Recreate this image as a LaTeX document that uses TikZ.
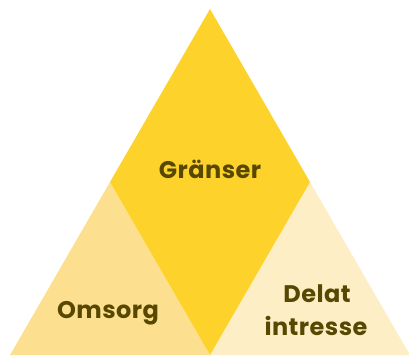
\documentclass[tikz,border=0pt]{standalone}
\usepackage{fontspec}
\setmainfont{Poppins}[LetterSpace=2]
\definecolor{diam}{HTML}{FDD22B}
\definecolor{leftc}{HTML}{FDE08F}
\definecolor{rightc}{HTML}{FEEEC5}
\definecolor{txt}{HTML}{574700}
\begin{document}
\begin{tikzpicture}[x=1pt,y=-1pt,
  lbl/.style={text=txt,font=\bfseries\fontsize{24}{28}\selectfont,anchor=base,inner sep=0pt,align=center}]
\useasboundingbox (0,0) rectangle (409,356);
\coordinate (T) at (210,9);
\coordinate (L) at (110,182);
\coordinate (R) at (310,182);
\coordinate (B) at (210,355);
\coordinate (BL) at (10,355);
\coordinate (BR) at (410,355);
\fill[leftc] (L) -- (BL) -- (B) -- cycle;
\fill[rightc] (R) -- (B) -- (BR) -- cycle;
\fill[diam] (T) -- (L) -- (B) -- (R) -- cycle;
\node[lbl] (g) at (210,178) {Gränser};
\node[lbl] (o) at (108,318) {Omsorg};
\node[lbl] (d) at (317,302) {Delat};
\node[lbl] (i) at (316,335) {intresse};
\end{tikzpicture}
\end{document}
